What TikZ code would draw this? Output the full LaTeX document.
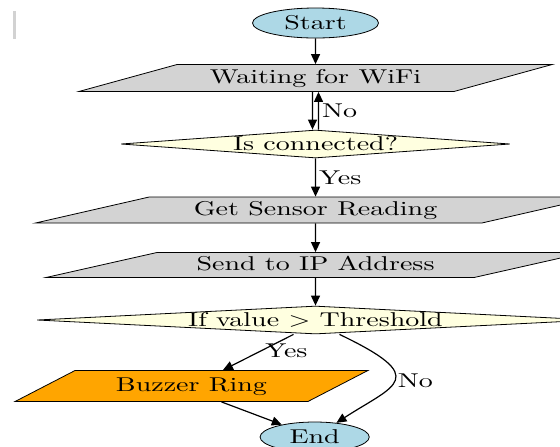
\documentclass[tikz,border=0pt]{standalone}
\usepackage{tikz}
\usepackage{xcolor}
\usetikzlibrary{shapes.geometric, arrows.meta, positioning}
\definecolor{termBlue}{HTML}{ADD8E6}
\definecolor{stepGray}{HTML}{D3D3D3}
\definecolor{askYellow}{HTML}{FFFFE0}
\definecolor{buzzOrange}{HTML}{FFA500}
\tikzstyle{terminal} = [ellipse, xscale=1.4, minimum width=45pt, minimum height=15pt, inner sep=0pt, draw=black, fill=termBlue]
\tikzstyle{io} = [trapezium, xscale=1.4, trapezium stretches body, inner sep=0pt, text height=7pt, text depth=2pt, text centered, draw=black, fill=stepGray]
\tikzstyle{decision} = [diamond, xscale=1.4, minimum height=14pt, inner sep=0pt, text centered, draw=black, fill=askYellow]
\tikzstyle{tag} = [xscale=1.4, inner sep=1pt]
\tikzstyle{arrow} = [semithick,->,>={Triangle[length=5pt,width=4.5pt]}]

\begin{document}
\begin{tikzpicture}[node distance=27.5pt]

\useasboundingbox (0,0) rectangle (280pt,-223pt);
\clip (0,0) rectangle (280pt,-223pt);

% Nodes (xshift inside a node is scaled by its xscale=1.4)
\node (start) [terminal] at (157.75pt,-11.5pt) {Start};
\node (wait) [io, below of=start, trapezium left angle=14.4, trapezium right angle=165.6, minimum width=169pt, minimum height=13.5pt] {Waiting for WiFi};
\node (isconn) [decision, below of=wait, yshift=-5.5pt, aspect=10, minimum width=139pt] {Is connected?};
\node (read) [io, below of=isconn, yshift=-5.5pt, trapezium left angle=12.5, trapezium right angle=167.5, minimum width=200pt, minimum height=13pt] {Get Sensor Reading};
\node (send) [io, below of=read, trapezium left angle=12.8, trapezium right angle=167.2, minimum width=192.5pt, minimum height=12.5pt] {Send to IP Address};
\node (ifval) [decision, below of=send, aspect=14, minimum width=199pt] {If value $>$ Threshold};
\node (buzz) [io, below of=ifval, xshift=-44.3pt, yshift=-5.5pt, trapezium left angle=22.8, trapezium right angle=157.2, minimum width=126pt, minimum height=15.5pt, fill=buzzOrange] {Buzzer Ring};
\node (stop) [terminal, below of=buzz, xshift=44pt, yshift=2pt, minimum width=39pt] {End};

% Links
\draw [arrow] (start) -- (wait);
\draw [arrow] ([xshift=-1.5pt]wait.south) -- ([xshift=-1.5pt]isconn.north);
\draw [arrow] ([xshift=1.5pt]isconn.north) -- node[tag, right] {No} ([xshift=1.5pt]wait.south);
\draw [arrow] (isconn) -- node[tag, right] {Yes} (read);
\draw [arrow] (read) -- (send);
\draw [arrow] (send) -- (ifval);
\draw [arrow] ([xshift=-11pt]ifval.south) -- node[tag, right, pos=0.45] {Yes} (buzz);
\draw [arrow] ([xshift=15pt]buzz.south) -- (stop);
\draw [arrow] ([xshift=12pt]ifval.south) .. controls +(46pt,-22pt) and +(40pt,26pt) .. node[tag, right, pos=0.5] {No} (stop);

% stray mark at the top left
\draw [gray!35, line width=1.5pt] (7pt,-5.5pt) -- (7pt,-19.5pt);

\end{tikzpicture}
\end{document}
